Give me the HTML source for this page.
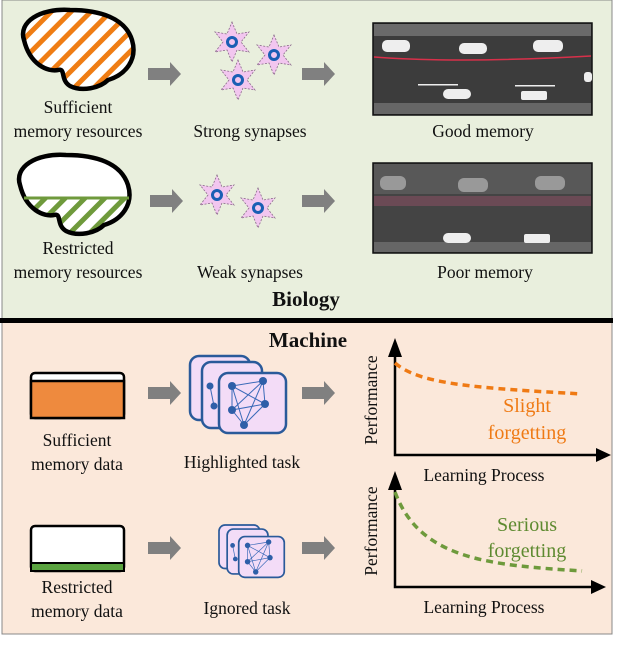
<!DOCTYPE html>
<html><head><meta charset="utf-8"><style>
html,body{margin:0;padding:0;background:#fff;}
svg{display:block;}
svg text{font-family:"Liberation Serif","Times New Roman",Times,"DejaVu Serif",serif;fill:#111;}
</style></head><body>
<svg width="640" height="656" viewBox="0 0 640 656" xmlns="http://www.w3.org/2000/svg">
<defs>
<pattern id="ho" width="14" height="14" patternUnits="userSpaceOnUse" patternTransform="rotate(-45)">
<rect width="14" height="14" fill="#fff"/><rect width="14" height="5" fill="#ef7d14"/></pattern>
<pattern id="hg" width="14" height="14" patternUnits="userSpaceOnUse" patternTransform="rotate(-45)">
<rect width="14" height="14" fill="#fff"/><rect width="14" height="5" fill="#6f9a3c"/></pattern>
<clipPath id="cb2"><rect x="0" y="197" width="200" height="80"/></clipPath>
<g id="arr"><polygon points="0,-6 22,-6 22,-12 33,0 22,12 22,6 0,6" fill="#808080"/></g>
<path id="brain" d="M24,40 C18,22 40,8 70,10 C100,10 125,18 132,40 C138,60 125,75 108,80 C100,88 82,92 70,86 C60,80 66,68 58,70 C48,72 30,65 24,40 Z"/>
<g id="star"><polygon points="0,-20 5,-8 17,-10 9,0 17,10 5,8 0,20 -5,8 -17,10 -9,0 -17,-10 -5,-8" fill="#f2c6ef" stroke="#8a6a8a" stroke-width="0.8" stroke-dasharray="2,1.5"/><circle r="4.5" fill="none" stroke="#1a5fb4" stroke-width="3"/></g>
<g id="net">
<rect x="0" y="0" width="60" height="64" rx="9" fill="#f3dcf7" stroke="#2a5a9a" stroke-width="2.5"/>
<rect x="12" y="6" width="60" height="66" rx="9" fill="#f3dcf7" stroke="#2a5a9a" stroke-width="2.5"/>
<rect x="29" y="17" width="67" height="60" rx="9" fill="#f3dcf7" stroke="#2a5a9a" stroke-width="2.5"/>
<g stroke="#3a6ab8" stroke-width="1"><line x1="42" y1="30" x2="73" y2="25"/><line x1="42" y1="30" x2="42" y2="54"/><line x1="42" y1="30" x2="75" y2="48"/><line x1="42" y1="30" x2="54" y2="69"/><line x1="73" y1="25" x2="42" y2="54"/><line x1="73" y1="25" x2="75" y2="48"/><line x1="73" y1="25" x2="54" y2="69"/><line x1="42" y1="54" x2="75" y2="48"/><line x1="42" y1="54" x2="54" y2="69"/><line x1="75" y1="48" x2="54" y2="69"/><line x1="20" y1="30" x2="24" y2="50"/></g>
<g fill="#2e5fa8"><circle cx="42" cy="30" r="4"/><circle cx="73" cy="25" r="4"/><circle cx="42" cy="54" r="4"/><circle cx="75" cy="48" r="4"/><circle cx="54" cy="69" r="4"/><circle cx="20" cy="30" r="3.5"/><circle cx="24" cy="50" r="3.5"/></g>
</g>
</defs>
<rect x="2" y="0" width="610" height="319" fill="#e9efdd" stroke="#888" stroke-width="1"/>
<rect x="2" y="322" width="610" height="312" fill="#fbe8da" stroke="#888" stroke-width="1"/>
<rect x="0" y="318" width="613" height="5" fill="#000"/>

<use href="#brain" fill="url(#ho)" stroke="#000" stroke-width="4.5"/>
<g transform="translate(-4,145)">
<use href="#brain" fill="#fff"/>
<g clip-path="url(#cb2)" transform="translate(0,-145)"><g transform="translate(0,145)"><use href="#brain" fill="url(#hg)"/></g></g>
<use href="#brain" fill="none" stroke="#000" stroke-width="4.5"/>
</g>
<line x1="24" y1="198" x2="129" y2="198" stroke="#6f9a3c" stroke-width="3"/>

<g font-size="17.5" text-anchor="middle">
<text x="78" y="113">Sufficient</text><text x="78" y="137">memory resources</text>
<text x="250" y="137">Strong synapses</text><text x="483" y="137">Good memory</text>
<text x="78" y="254">Restricted</text><text x="78" y="278">memory resources</text>
<text x="250" y="278">Weak synapses</text><text x="485" y="278">Poor memory</text>
</g>
<text x="306" y="306" font-size="21" font-weight="bold" text-anchor="middle">Biology</text>

<use href="#arr" x="148" y="74"/><use href="#arr" x="302" y="74"/>
<use href="#arr" x="150" y="201"/><use href="#arr" x="302" y="201"/>
<use href="#star" x="232" y="42"/><use href="#star" x="274" y="55"/><use href="#star" x="238" y="80"/>
<use href="#star" x="217" y="195"/><use href="#star" x="258" y="208"/>

<rect x="373" y="23" width="219" height="92" fill="#3c3c3c" stroke="#111" stroke-width="1.5"/>
<rect x="374" y="24" width="217" height="12" fill="#6a6a6a"/>
<path d="M374,57 C440,62 520,60 591,56" stroke="#d8304a" stroke-width="1.5" fill="none"/>
<rect x="374" y="103" width="217" height="11" fill="#666"/>
<g fill="#eee"><rect x="382" y="40" width="28" height="12" rx="5"/><rect x="459" y="43" width="28" height="11" rx="5"/><rect x="533" y="40" width="30" height="12" rx="5"/><rect x="443" y="89" width="28" height="10" rx="5"/><rect x="521" y="91" width="26" height="9" rx="2"/><rect x="584" y="72" width="8" height="10" rx="3"/>
<rect x="418" y="84" width="40" height="1.5"/><rect x="515" y="85" width="40" height="1.5"/></g>
<rect x="373" y="163" width="219" height="90" fill="#444" stroke="#111" stroke-width="1.5"/>
<rect x="374" y="164" width="217" height="30" fill="#585858"/>
<rect x="374" y="196" width="217" height="10" fill="#6b4a55"/>
<rect x="374" y="242" width="217" height="10" fill="#666"/>
<g fill="#aaa" opacity="0.8"><rect x="380" y="176" width="26" height="14" rx="6"/><rect x="458" y="178" width="30" height="14" rx="6"/><rect x="535" y="176" width="30" height="14" rx="6"/></g>
<g fill="#eee"><rect x="443" y="233" width="28" height="10" rx="5"/><rect x="524" y="234" width="26" height="9" rx="2"/></g>

<text x="308" y="347" font-size="21" font-weight="bold" text-anchor="middle">Machine</text>
<rect x="31" y="373" width="93" height="45" rx="4" fill="#fff" stroke="#000" stroke-width="2.5"/>
<rect x="31" y="381" width="93" height="37" fill="#ee8a3e" stroke="#000" stroke-width="2.5"/>
<rect x="31" y="526" width="93" height="45" rx="4" fill="#fff" stroke="#000" stroke-width="2.5"/>
<rect x="31" y="563" width="93" height="8" fill="#5aa340" stroke="#000" stroke-width="2"/>
<use href="#arr" x="148" y="393"/><use href="#arr" x="302" y="393"/>
<use href="#arr" x="148" y="548"/><use href="#arr" x="302" y="548"/>
<use href="#net" transform="translate(190,356)"/>
<use href="#net" transform="translate(219,525) scale(0.68)"/>
<g font-size="17.5" text-anchor="middle">
<text x="77" y="446">Sufficient</text><text x="77" y="470">memory data</text>
<text x="242" y="468">Highlighted task</text>
<text x="77" y="593">Restricted</text><text x="77" y="617">memory data</text>
<text x="247" y="614">Ignored task</text>
<text x="484" y="481">Learning Process</text><text x="484" y="613">Learning Process</text>
</g>
<g font-size="17.5" text-anchor="middle">
<text transform="translate(377,400) rotate(-90)">Performance</text>
<text transform="translate(377,531) rotate(-90)">Performance</text>
</g>
<g stroke="#000" stroke-width="2.5" fill="none"><polyline points="395,350 395,455 598,455"/><polyline points="395,482 395,587 593,587"/></g>
<g fill="#000"><polygon points="388,357 395,338 402,357"/><polygon points="596,448 611,455 596,462"/>
<polygon points="388,490 395,471 402,490"/><polygon points="591,580 606,587 591,594"/></g>
<path d="M395,363 C420,385 480,388 582,394" stroke="#ef7a14" stroke-width="3.5" fill="none" stroke-dasharray="7,5"/>
<path d="M395,492 C420,560 490,565 582,571" stroke="#6e9a3c" stroke-width="3.5" fill="none" stroke-dasharray="7,5"/>
<g font-size="20" text-anchor="middle">
<text x="527" y="412" style="fill:#ef7a14">Slight</text><text x="527" y="439" style="fill:#ef7a14">forgetting</text>
<text x="527" y="531" style="fill:#5e8a30">Serious</text><text x="527" y="557" style="fill:#5e8a30">forgetting</text>
</g>
</svg>
</body></html>
